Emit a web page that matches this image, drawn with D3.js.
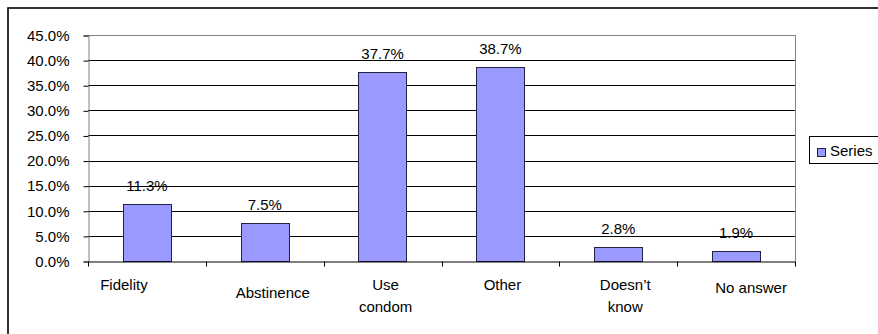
<!DOCTYPE html>
<html>
<head>
<meta charset="utf-8">
<script src="https://cdn.jsdelivr.net/npm/d3@7/dist/d3.min.js"></script>
<style>
  html, body { margin: 0; padding: 0; background: #fff; overflow: hidden; }
  svg { display: block; font-family: Arial, "Liberation Sans", sans-serif; }
</style>
</head>
<body>
<svg id="chart" width="878" height="334"></svg>
<script>
// Survey answers and their shares (percent)
const categories = ["Fidelity", "Abstinence", "Use condom", "Other", "Doesn\u2019t know", "No answer"];
const categoryLines = [["Fidelity"], ["Abstinence"], ["Use", "condom"], ["Other"], ["Doesn\u2019t", "know"], ["No answer"]];
const values = [11.3, 7.5, 37.7, 38.7, 2.8, 1.9];
const yTicks = [0, 5, 10, 15, 20, 25, 30, 35, 40, 45];
const seriesName = "Series";

const svg = d3.select("#chart");
const W = 878, H = 334;
const plot = { left: 88, right: 795, top: 35, bottom: 261 };
const barFill = "#9999ff";

// Outer chart frame
svg.append("rect")
  .attr("x", 8).attr("y", 8)
  .attr("width", W + 20).attr("height", H + 20)
  .attr("fill", "#fff").attr("stroke", "#000").attr("stroke-width", 1.6);

const x = d3.scaleBand().domain(categories).range([plot.left, plot.right]).padding(0);
const y = d3.scaleLinear().domain([0, 45]).range([plot.bottom, plot.top]);

// Horizontal gridlines
svg.append("g").selectAll("line")
  .data(yTicks.filter(t => t > 0 && t < 45))
  .join("line")
  .attr("x1", plot.left).attr("x2", plot.right)
  .attr("y1", d => Math.round(y(d)) + 0.5).attr("y2", d => Math.round(y(d)) + 0.5)
  .attr("stroke", "#000").attr("stroke-width", 1);

// Plot frame (top and right edges)
svg.append("path")
  .attr("d", `M${plot.left},${plot.top + 0.5}H${plot.right + 0.5}V${plot.bottom}`)
  .attr("fill", "none").attr("stroke", "#808080").attr("stroke-width", 1);

// Y axis
const yAxis = d3.axisLeft(y).tickValues(yTicks)
  .tickFormat(d => d.toFixed(1) + "%").tickSize(5).tickPadding(14);
const gy = svg.append("g").attr("transform", `translate(${plot.left + 0.5},0.5)`).call(yAxis);
gy.select(".domain").attr("stroke", "#808080");
gy.selectAll(".tick line").attr("stroke", "#000");
gy.selectAll(".tick text").attr("font-size", 15).attr("fill", "#000")
  .attr("font-family", "Arial, 'Liberation Sans', sans-serif");

// Bars
const barFrac = 0.41;
const bw = x.bandwidth() * barFrac;
svg.append("g").selectAll("rect")
  .data(values)
  .join("rect")
  .attr("x", (d, i) => Math.round(x(categories[i]) + (x.bandwidth() - bw) / 2) + 0.5)
  .attr("y", d => Math.round(y(d)) + 0.5)
  .attr("width", Math.round(bw))
  .attr("height", d => Math.round(y(0)) - Math.round(y(d)))
  .attr("fill", barFill).attr("stroke", "#222244").attr("stroke-width", 1);

// Value labels
svg.append("g").selectAll("text")
  .data(values)
  .join("text")
  .attr("x", (d, i) => x(categories[i]) + x.bandwidth() / 2)
  .attr("y", d => y(d) - 13)
  .attr("text-anchor", "middle")
  .attr("font-size", 15).attr("fill", "#000")
  .text(d => d.toFixed(1) + "%");

// X axis line with category boundary ticks
const xAxis = d3.axisBottom(x).tickSize(0).tickFormat("");
const gx = svg.append("g").attr("transform", `translate(0,${plot.bottom + 0.5})`).call(xAxis);
gx.select(".domain").attr("stroke", "#000");
gx.selectAll(".tick").remove();
const bounds = categories.map(c => x(c)).concat([plot.right]);
gx.selectAll("line.bound")
  .data(bounds)
  .join("line")
  .attr("class", "bound")
  .attr("x1", d => Math.round(d) + 0.5).attr("x2", d => Math.round(d) + 0.5)
  .attr("y1", 0).attr("y2", 5)
  .attr("stroke", "#000");

// Category labels (small nudges reproduce the original label placement)
const nudgeX = [-23, 8, 3, 2, 7, 15];
const nudgeY = [0, 8, 0, 0, 0, 3];
const gl = svg.append("g");
categoryLines.forEach((lines, i) => {
  const t = gl.append("text")
    .attr("x", x(categories[i]) + x.bandwidth() / 2 + nudgeX[i])
    .attr("y", 290 + nudgeY[i])
    .attr("text-anchor", "middle")
    .attr("font-size", 15).attr("fill", "#000");
  lines.forEach((ln, k) => {
    t.append("tspan")
      .attr("x", x(categories[i]) + x.bandwidth() / 2 + nudgeX[i])
      .attr("dy", k === 0 ? 0 : 22)
      .text(ln);
  });
});

// Legend
const lg = svg.append("g");
lg.append("rect")
  .attr("x", 809.5).attr("y", 136.5).attr("width", 90).attr("height", 27)
  .attr("fill", "#fff").attr("stroke", "#000").attr("stroke-width", 1);
lg.append("rect")
  .attr("x", 817.5).attr("y", 148.5).attr("width", 8).attr("height", 8)
  .attr("fill", barFill).attr("stroke", "#222244").attr("stroke-width", 1);
lg.append("text")
  .attr("x", 830).attr("y", 156)
  .attr("font-size", 15).attr("fill", "#000")
  .text(seriesName);
</script>
</body>
</html>
